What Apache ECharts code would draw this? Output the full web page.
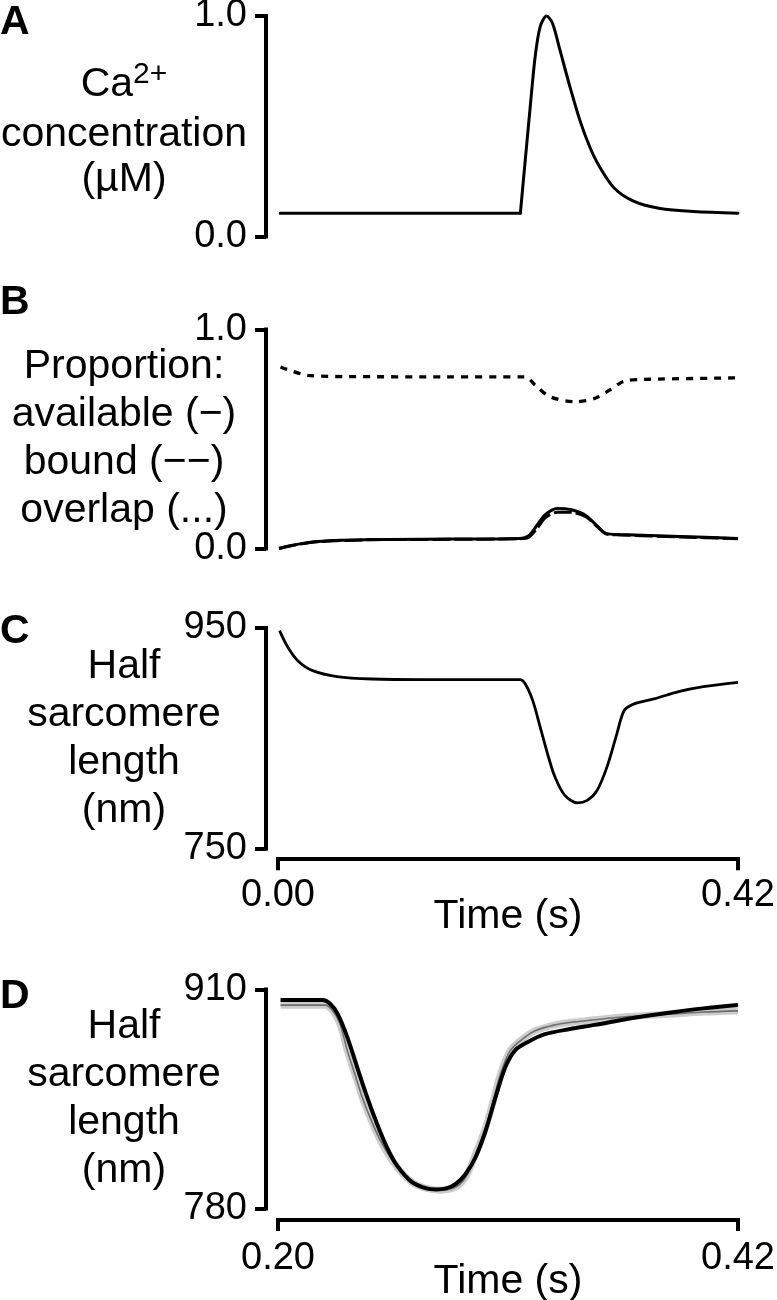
<!DOCTYPE html>
<html>
<head>
<meta charset="utf-8">
<script src="https://cdn.jsdelivr.net/npm/echarts@6/dist/echarts.min.js"></script>
<style>
  html, body { margin: 0; padding: 0; background: #fff; }
  #chart { width: 777px; height: 1300px; }
</style>
</head>
<body>
<div id="chart"></div>
<script>
// ---------------- Data ----------------
// Panel A: Ca2+ concentration (uM) vs time (s)
const caTime = [0.002, 0.05, 0.10, 0.15, 0.20, 0.215, 0.2213, 0.2258, 0.2303, 0.2348, 0.2394, 0.2452, 0.2506, 0.2574, 0.2665, 0.2755, 0.2845, 0.2935, 0.3071, 0.3252, 0.3477, 0.3794, 0.42];
const caConc = [0.106, 0.106, 0.106, 0.106, 0.106, 0.106, 0.106, 0.349, 0.589, 0.816, 0.952, 1.000, 0.967, 0.846, 0.680, 0.529, 0.408, 0.317, 0.219, 0.159, 0.128, 0.113, 0.106];

// Panel B: proportions
const bTime = [0.001, 0.012, 0.036, 0.087, 0.158, 0.221, 0.229, 0.237, 0.244, 0.255, 0.267, 0.281, 0.292, 0.300, 0.312, 0.367, 0.420];
const availableProp = [0.000, 0.014, 0.032, 0.041, 0.043, 0.046, 0.059, 0.110, 0.155, 0.183, 0.178, 0.151, 0.100, 0.068, 0.064, 0.055, 0.046];
const boundProp = [0.000, 0.013, 0.031, 0.040, 0.042, 0.045, 0.052, 0.095, 0.140, 0.166, 0.165, 0.145, 0.098, 0.066, 0.062, 0.053, 0.045];
const ovTime = [0.0023, 0.0271, 0.0632, 0.1535, 0.2258, 0.2348, 0.2484, 0.2710, 0.2890, 0.3026, 0.3161, 0.3342, 0.42];
const overlapProp = [0.829, 0.791, 0.785, 0.784, 0.784, 0.746, 0.693, 0.670, 0.685, 0.723, 0.764, 0.772, 0.779];

// Panel C: half sarcomere length (nm)
const cTime = [0.0014, 0.009, 0.018, 0.0316, 0.054, 0.0858, 0.131, 0.221, 0.2258, 0.2326, 0.2394, 0.2461, 0.2529, 0.2619, 0.2732, 0.2823, 0.2913, 0.3003, 0.3094, 0.3161, 0.3252, 0.3432, 0.3658, 0.3884, 0.42];
const cLength = [947.6, 932.5, 920.4, 911.4, 906.0, 903.8, 903.2, 903.2, 899.3, 884.2, 860.1, 836.0, 814.9, 798.3, 791.6, 793.8, 802.8, 823.9, 854.1, 875.2, 881.2, 885.7, 892.4, 896.9, 900.8];

// Panel D: model (black) and experiment (grey) half sarcomere length (nm)
const dTime = [0.2012, 0.2213, 0.2248, 0.2284, 0.2331, 0.2378, 0.2426, 0.2473, 0.2520, 0.2568, 0.2639, 0.2710, 0.2757, 0.2804, 0.2852, 0.2899, 0.2946, 0.2994, 0.3041, 0.3088, 0.3135, 0.3195, 0.3277, 0.3396, 0.3514, 0.3703, 0.3869, 0.4034, 0.42];
const dModel = [903.7, 903.7, 901.7, 895.8, 881.9, 864.1, 846.3, 830.5, 816.6, 805.7, 795.8, 791.9, 791.3, 791.9, 794.8, 800.8, 810.7, 826.5, 846.3, 864.1, 874.0, 878.9, 883.5, 886.5, 889.0, 893.2, 896.2, 898.8, 900.8];
const eTime = [0.2012, 0.2225, 0.2260, 0.2296, 0.2331, 0.2367, 0.2402, 0.2449, 0.2497, 0.2568, 0.2639, 0.2710, 0.2781, 0.2852, 0.2899, 0.2946, 0.2994, 0.3030, 0.3065, 0.3112, 0.3183, 0.3230, 0.3325, 0.3419, 0.3514, 0.3632, 0.3751, 0.3892, 0.4034, 0.42];
const eLength = [900.7, 900.7, 897.7, 889.8, 874.0, 860.1, 846.3, 831.4, 818.6, 804.7, 795.8, 791.9, 790.9, 792.9, 798.8, 812.7, 828.5, 844.3, 860.1, 874.0, 881.9, 885.5, 889.0, 890.8, 892.0, 893.5, 894.5, 895.5, 896.6, 897.3];

// Tick labels
const xTicksFull = [0, 0.42];
const xTicksZoom = [0.20, 0.42];
const yTicksA = [0, 1];
const yTicksB = [0, 1];
const yTicksC = [750, 950];
const yTicksD = [780, 910];

// ---------------- Chart ----------------
const FONT = "'Liberation Sans', Arial, Helvetica, sans-serif";
const zip = (xs, ys) => xs.map((x, i) => [x, ys[i]]);

// Split the Ca trace at the onset of the transient so the sharp corner stays sharp
const caOnset = caConc.findIndex((v, i) => i > 0 && v > caConc[i - 1]) - 1;
const caBaseline = zip(caTime.slice(0, caOnset + 1), caConc.slice(0, caOnset + 1));
const caTransient = zip(caTime.slice(caOnset), caConc.slice(caOnset));

const chart = echarts.init(document.getElementById('chart'), null, { renderer: 'canvas', width: 777, height: 1300 });

const gridLeft = 278, gridRight = 39;
const axisLineStyle = { color: '#000', width: 4, cap: 'square' };

function yAxisCfg(idx, min, max, ticks, fmt, name, nameStyle) {
  return {
    type: 'value', gridIndex: idx, min: min, max: max, offset: 12,
    axisLine: { show: true, onZero: false, lineStyle: axisLineStyle },
    axisTick: { show: true, customValues: ticks, length: 11, lineStyle: { color: '#000', width: 4 } },
    axisLabel: { show: true, customValues: ticks, formatter: fmt, margin: 19, fontSize: 38, color: '#000', fontFamily: FONT },
    splitLine: { show: false },
    name: name, nameLocation: 'middle', nameRotate: 0, nameGap: 142, nameMoveOverlap: false,
    nameTextStyle: Object.assign({ color: '#000', fontSize: 41, fontFamily: FONT, align: 'center', verticalAlign: 'middle', lineHeight: 48 }, nameStyle || {})
  };
}

function xAxisCfg(idx, min, max, ticks, visible, offset, labelMargin, nameGap) {
  if (!visible) {
    return { type: 'value', gridIndex: idx, min: min, max: max, show: false };
  }
  return {
    type: 'value', gridIndex: idx, min: min, max: max, offset: offset,
    axisLine: { show: true, onZero: false, lineStyle: axisLineStyle },
    axisTick: { show: true, customValues: ticks, length: 11, lineStyle: { color: '#000', width: 4 } },
    axisLabel: { show: true, customValues: ticks, formatter: v => v.toFixed(2), margin: labelMargin, fontSize: 38, color: '#000', fontFamily: FONT },
    splitLine: { show: false },
    name: 'Time (s)', nameLocation: 'middle', nameGap: nameGap, nameMoveOverlap: false,
    nameTextStyle: { color: '#000', fontSize: 41, fontFamily: FONT }
  };
}

function lineSeries(xi, data, style, z, smooth) {
  return {
    type: 'line', xAxisIndex: xi, yAxisIndex: xi, data: data,
    showSymbol: false, symbol: 'none', smooth: smooth === undefined ? 0.3 : smooth, clip: false, silent: true,
    lineStyle: style, z: z || 2
  };
}

function gridCfg(top, height) {
  return { left: gridLeft, right: gridRight, top: top, height: height, containLabel: false, outerBoundsMode: 'none' };
}

const letterStyle = { fontSize: 41, fontWeight: 'bold', color: '#000', fontFamily: FONT };

const option = {
  backgroundColor: '#fff',
  animation: false,
  title: [
    { text: 'A', left: 0, top: 2, padding: 0, textStyle: letterStyle },
    { text: 'B', left: 0, top: 282, padding: 0, textStyle: letterStyle },
    { text: 'C', left: 0, top: 611, padding: 0, textStyle: letterStyle },
    { text: 'D', left: 0, top: 976, padding: 0, textStyle: letterStyle }
  ],
  grid: [
    gridCfg(16, 220.5),
    gridCfg(329.5, 219),
    gridCfg(628, 220.7),
    gridCfg(989.5, 219)
  ],
  xAxis: [
    xAxisCfg(0, 0, 0.42, xTicksFull, false),
    xAxisCfg(1, 0, 0.42, xTicksFull, false),
    xAxisCfg(2, 0, 0.42, xTicksFull, true, 10.5, 17, 37),
    xAxisCfg(3, 0.20, 0.42, xTicksZoom, true, 11.5, 20, 41)
  ],
  yAxis: [
    yAxisCfg(0, 0, 1, yTicksA, v => v.toFixed(1),
      '{t|Ca}{s|2+}\n{t|concentration}\n{u|(µM)}',
      { padding: [6, 0, 0, 0], rich: {
          t: { fontSize: 41, lineHeight: 50, color: '#000', fontFamily: FONT },
          s: { fontSize: 30, lineHeight: 20, verticalAlign: 'top', color: '#000', fontFamily: FONT },
          u: { fontSize: 41, lineHeight: 40, color: '#000', fontFamily: FONT }
      } }),
    yAxisCfg(1, 0, 1, yTicksB, v => v.toFixed(1),
      'Proportion:\navailable (\u2212)\nbound (\u2212\u2212)\noverlap (...)'),
    yAxisCfg(2, 750, 950, yTicksC, v => String(v),
      'Half\nsarcomere\nlength\n(nm)'),
    yAxisCfg(3, 780, 910, yTicksD, v => String(v),
      'Half\nsarcomere\nlength\n(nm)')
  ],
  series: [
    lineSeries(0, caBaseline, { color: '#000', width: 3, cap: 'round' }, 2, false),
    lineSeries(0, caTransient, { color: '#000', width: 3, cap: 'round' }, 2, 0.3),
    lineSeries(1, zip(bTime, availableProp), { color: '#000', width: 3 }),
    lineSeries(1, zip(bTime, boundProp), { color: '#000', width: 3, type: [18, 4] }),
    lineSeries(1, zip(ovTime, overlapProp), { color: '#000', width: 3.3, type: [7, 7] }),
    lineSeries(2, zip(cTime, cLength), { color: '#000', width: 2.8 }),
    lineSeries(3, zip(eTime, eLength), { color: '#cccccc', width: 7 }, 1),
    lineSeries(3, zip(eTime, eLength), { color: '#6e6e6e', width: 1.6 }, 2),
    lineSeries(3, zip(dTime, dModel), { color: '#000', width: 4 }, 3)
  ]
};

chart.setOption(option);
</script>
</body>
</html>
